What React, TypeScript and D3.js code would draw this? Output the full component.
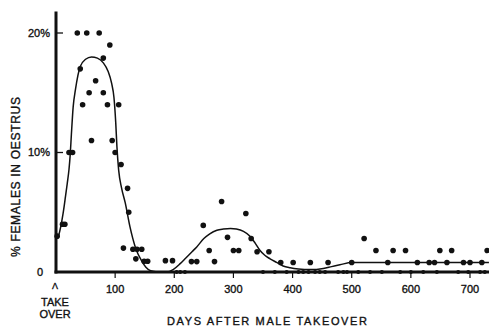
import React from "react";
import * as d3 from "d3";

// chart size
const W = 489;
const H = 327;

// tick labels
const xTicks = [100, 200, 300, 400, 500, 600, 700];
const yTicks = [10, 20];

// observed points: [days after takeover, % females in oestrus]
const obsDays = [
  36, 52, 73, 91, 80, 41, 67, 56, 80, 45, 87, 106, 60, 95, 22, 28, 100, 110, 121, 123, 2, 11, 15,
  114, 130, 137, 145, 135, 149, 155, 185, 197,
  280, 321, 249, 290, 330, 259, 300, 309, 340, 360, 229, 238, 268,
  380, 401, 430, 460, 500, 561, 611, 631, 640, 661, 689, 700, 720,
  521, 541, 570, 591, 649, 669, 729,
];
const obsPct = [
  20, 20, 20, 19, 17.9, 17, 16, 15, 15, 14, 14, 14, 11, 11, 10, 10, 10, 9, 7, 5, 3, 4, 4,
  2, 1.9, 1.9, 1.9, 1.1, 0.9, 0.9, 0.95, 0.95,
  5.9, 4.9, 3.9, 2.9, 2.8, 1.8, 1.8, 1.8, 1.7, 1.7, 0.87, 0.87, 0.87,
  0.8, 0.8, 0.8, 0.8, 0.8, 0.8, 0.8, 0.8, 0.8, 0.8, 0.8, 0.8, 0.8,
  2.8, 1.8, 1.8, 1.8, 1.8, 1.8, 1.8,
];

// observations at zero (small dots sitting on the axis)
const zeroDays = [
  204, 210, 218, 350, 370, 390, 410, 418, 427, 438, 446, 455, 477, 486, 492, 511, 531, 551, 582,
  600, 621, 644, 680, 697, 717, 725,
];

// fitted curve
const fitDays = [
  0, 4, 8, 12, 16, 19, 22, 24, 26, 29, 33, 41, 50, 60, 70, 80, 88, 94, 98, 101, 103, 106, 111, 117,
  125, 134, 145, 152, 160, 172, 188, 198, 210, 220, 230, 238, 250, 260, 272, 283, 295, 305, 317,
  328, 337, 345, 353, 362, 373, 384, 396, 410, 430, 452, 466, 480, 500, 732,
];
const fitPct = [
  2.8, 3.0, 3.8, 4.9, 6.3, 7.4, 8.6, 9.8, 11.5, 13.8, 15.3, 17.2, 17.8, 18.0, 17.9, 17.5, 16.8,
  15.8, 14.6, 12.5, 10.5, 8.5, 7.0, 5.8, 3.8, 2.1, 0.9, 0.4, 0.1, 0, 0, 0.2, 0.7, 1.2, 1.7, 2.1,
  2.8, 3.2, 3.5, 3.6, 3.65, 3.6, 3.4, 3.0, 2.4, 1.8, 1.4, 1.1, 0.8, 0.5, 0.35, 0.25, 0.2, 0.3,
  0.45, 0.6, 0.8, 0.8,
];

const x = d3.scaleLinear().domain([0, 700]).range([56, 470]);
const y = d3.scaleLinear().domain([0, 20]).range([272, 33]);

const font = "'Liberation Sans', Arial, sans-serif";
const ink = "#111";
// heavier lettering like the inked original
const txt = { fill: ink, stroke: ink, strokeWidth: 0.35 };

export default function App() {
  const line = d3
    .line<number>()
    .x((d, i) => x(fitDays[i]))
    .y((d) => y(d))
    .curve(d3.curveMonotoneX);

  return (
    <svg
      width={W}
      height={H}
      style={{ position: "absolute", left: 0, top: 0, background: "#fff" }}
      fontFamily={font}
    >
      <rect width={W} height={H} fill="#fff" />

      {/* fitted curve */}
      <path d={line(fitPct) || ""} fill="none" stroke={ink} strokeWidth={1.5} />

      {/* axes */}
      <line x1={x(0)} x2={x(0)} y1={y(0) + 1.5} y2={y(21.8)} stroke={ink} strokeWidth={3} />
      <line x1={x(0) - 1.5} x2={W} y1={y(0)} y2={y(0)} stroke={ink} strokeWidth={3} />

      {yTicks.map((t) => (
        <g key={t}>
          <line x1={x(0)} x2={x(0) + 7} y1={y(t)} y2={y(t)} stroke={ink} strokeWidth={1.3} />
          <text x={50} y={y(t)} dy="0.35em" textAnchor="end" fontSize={11} {...txt}>
            {t}%
          </text>
        </g>
      ))}
      <text x={43} y={y(0)} dy="0.35em" textAnchor="end" fontSize={11} {...txt}>
        0
      </text>

      {xTicks.map((t) => (
        <g key={t}>
          <line x1={x(t)} x2={x(t)} y1={y(0)} y2={y(0) + 6} stroke={ink} strokeWidth={1.2} />
          <text x={x(t)} y={293} textAnchor="middle" fontSize={11} {...txt}>
            {t}
          </text>
        </g>
      ))}

      {/* takeover marker */}
      <text x={x(0) - 1} y={289} textAnchor="middle" fontSize={9} {...txt}>
        Λ
      </text>
      <text x={55} y={306} textAnchor="middle" fontSize={11} {...txt}>
        TAKE
      </text>
      <text x={55} y={318} textAnchor="middle" fontSize={11} {...txt}>
        OVER
      </text>

      {/* axis titles */}
      <text x={167} y={325} fontSize={11} textLength={200} lengthAdjust="spacing" {...txt}>
        DAYS AFTER MALE TAKEOVER
      </text>
      <text
        transform={`translate(20, 257) rotate(-90)`}
        fontSize={12}
        textLength={160}
        lengthAdjust="spacing"
        {...txt}
      >
        % FEMALES IN OESTRUS
      </text>

      {/* observations */}
      {obsDays.map((d, i) => (
        <circle key={"o" + i} cx={x(d)} cy={y(obsPct[i])} r={2.8} fill={ink} />
      ))}
      {zeroDays.map((d, i) => (
        <circle key={"z" + i} cx={x(d)} cy={y(0)} r={2} fill={ink} />
      ))}
    </svg>
  );
}
